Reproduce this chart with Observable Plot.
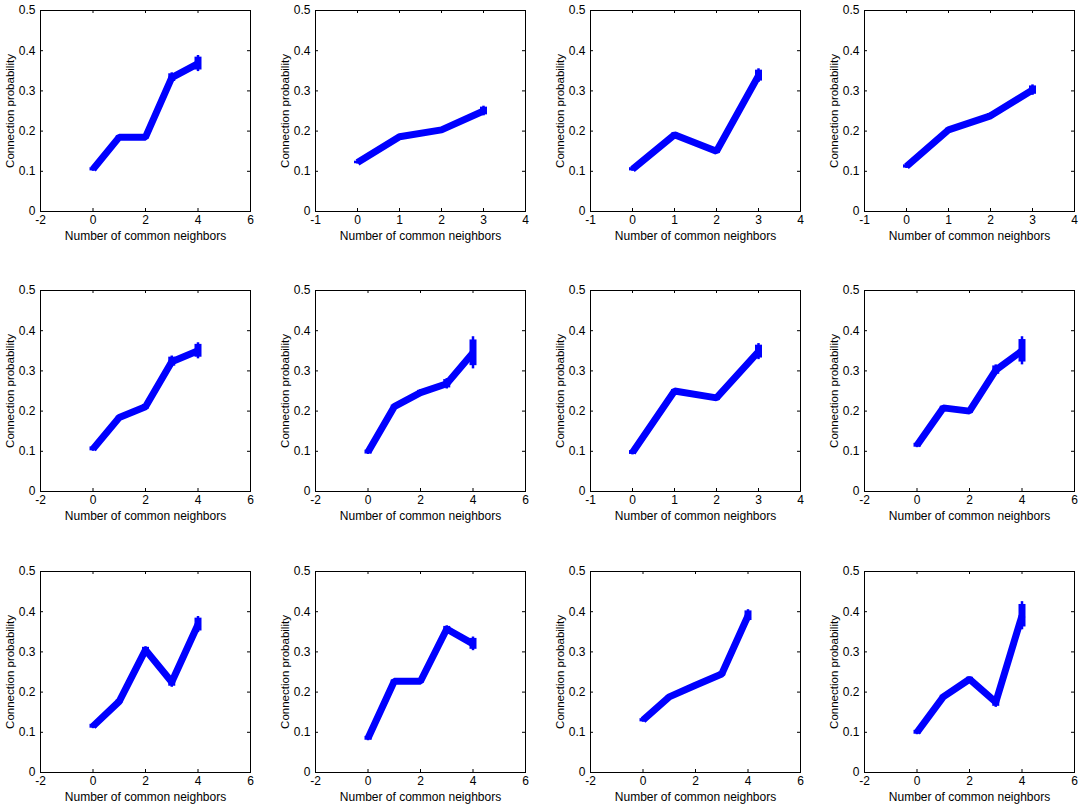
<!DOCTYPE html>
<html>
<head>
<meta charset="utf-8">
<script src="https://cdn.jsdelivr.net/npm/d3@7"></script>
<script src="https://cdn.jsdelivr.net/npm/@observablehq/plot@0.6"></script>
<style>
  html, body { margin: 0; padding: 0; background: #fff; }
  #wrap { position: relative; width: 1082px; height: 808px; overflow: hidden; }
  #wrap > div, #wrap > svg { position: absolute; }
</style>
</head>
<body>
<div id="wrap"></div>
<script>
// ---- data ----
const neighborCounts = [
  [0,1,2,3,4], [0,1,2,3], [0,1,2,3], [0,1,2,3],
  [0,1,2,3,4], [0,1,2,3,4], [0,1,2,3], [0,1,2,3,4],
  [0,1,2,3,4], [0,1,2,3,4], [0,1,2,3,4], [0,1,2,3,4]
];
const probabilities = [
  [0.105, 0.185, 0.185, 0.333, 0.368],
  [0.122, 0.186, 0.203, 0.250],
  [0.105, 0.191, 0.150, 0.338],
  [0.112, 0.203, 0.238, 0.302],
  [0.106, 0.184, 0.211, 0.323, 0.350],
  [0.098, 0.211, 0.246, 0.268, 0.345],
  [0.097, 0.250, 0.233, 0.348],
  [0.115, 0.208, 0.200, 0.302, 0.350],
  [0.115, 0.177, 0.305, 0.225, 0.368],
  [0.085, 0.227, 0.227, 0.357, 0.320],
  [0.130, 0.188, 0.217, 0.245, 0.390],
  [0.100, 0.188, 0.232, 0.175, 0.390]
];
const errors = [
  [0.005, 0.004, 0.005, 0.012, 0.020],
  [0.004, 0.004, 0.005, 0.012],
  [0.005, 0.005, 0.006, 0.017],
  [0.005, 0.005, 0.007, 0.013],
  [0.006, 0.004, 0.007, 0.014, 0.020],
  [0.006, 0.005, 0.007, 0.013, 0.040],
  [0.006, 0.004, 0.007, 0.020],
  [0.006, 0.005, 0.006, 0.013, 0.035],
  [0.006, 0.005, 0.008, 0.013, 0.020],
  [0.006, 0.004, 0.005, 0.008, 0.017],
  [0.005, 0.004, 0.005, 0.006, 0.015],
  [0.006, 0.005, 0.006, 0.013, 0.035]
];
const xTicksWide = [-2, 0, 2, 4, 6];
const xTicksNarrow = [-1, 0, 1, 2, 3, 4];
const yTicks = [0, 0.1, 0.2, 0.3, 0.4, 0.5];
const xLabel = "Number of common neighbors";
const yLabel = "Connection probability";

// ---- layout ----
const colLeft = [0, 275, 550, 824];
const rowTop = [0, 280, 561];
const W = 275, H = 280;
const mL = 40, mR = 25, mT = 10, mB = 69;
const FONT = "Liberation Sans, Arial, Helvetica, sans-serif";
const wrap = document.getElementById("wrap");

probabilities.forEach((probs, i) => {
  const xs = neighborCounts[i];
  const wide = xs.length === 5;
  const xTicks = wide ? xTicksWide : xTicksNarrow;
  const xDomain = [xTicks[0], xTicks[xTicks.length - 1]];
  const rows = xs.map((x, j) => ({x, y: probs[j], e: errors[i][j]}));
  const frameW = W - mL - mR, frameH = H - mT - mB;
  const tl = 3;

  const chart = Plot.plot({
    width: W, height: H,
    marginLeft: mL, marginRight: mR, marginTop: mT, marginBottom: mB,
    style: {fontFamily: FONT, fontSize: "12px", color: "#000", background: "transparent", overflow: "visible"},
    x: {domain: xDomain, ticks: xTicks},
    y: {domain: [0, 0.5], ticks: yTicks},
    marks: [
      Plot.axisX(xTicks, {tickSize: 0, tickPadding: 4, tickFormat: d => d < 0 ? "-" + Math.abs(d) : String(d), label: null, fontSize: 12}),
      Plot.axisY(yTicks, {tickSize: 0, tickPadding: 5, tickFormat: d => d === 0 ? "0" : d.toFixed(1), label: null, fontSize: 12}),
      // inward ticks on all four sides
      Plot.tickX(xTicks.slice(1, -1), {x: d => d, insetTop: frameH - tl, stroke: "#000", strokeWidth: 1}),
      Plot.tickX(xTicks.slice(1, -1), {x: d => d, insetBottom: frameH - tl, stroke: "#000", strokeWidth: 1}),
      Plot.tickY(yTicks.slice(1, -1), {y: d => d, insetRight: frameW - tl, stroke: "#000", strokeWidth: 1}),
      Plot.tickY(yTicks.slice(1, -1), {y: d => d, insetLeft: frameW - tl, stroke: "#000", strokeWidth: 1}),
      Plot.frame({stroke: "#000", strokeWidth: 1}),
      Plot.line(rows, {x: "x", y: "y", stroke: "#0000ff", strokeWidth: 7, strokeLinejoin: "miter", strokeLinecap: "butt"}),
      Plot.ruleX(rows, {x: "x", y1: d => d.y - d.e, y2: d => d.y + d.e, stroke: "#0000ff", strokeWidth: 2.5}),
      Plot.ruleX(rows, {x: "x", y1: d => d.y - 0.8 * d.e, y2: d => d.y + 0.8 * d.e, stroke: "#0000ff", strokeWidth: 7}),
      Plot.text([xLabel], {frameAnchor: "bottom", lineAnchor: "middle", dy: 25, fontSize: 12, fill: "#000"}),
      Plot.text([yLabel], {frameAnchor: "left", textAnchor: "middle", lineAnchor: "middle", rotate: -90, dx: -30, fontSize: 11.5, fill: "#000"})
    ]
  });
  chart.style.left = colLeft[i % 4] + "px";
  chart.style.top = rowTop[Math.floor(i / 4)] + "px";
  wrap.appendChild(chart);
});
</script>
</body>
</html>
